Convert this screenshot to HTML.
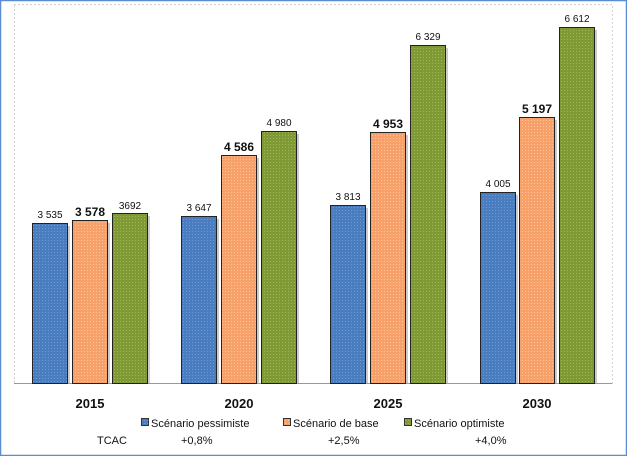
<!DOCTYPE html>
<html><head><style>
body{margin:0;width:627px;height:456px;background:#fff;overflow:hidden;font-family:"Liberation Sans",sans-serif}
</style></head><body>
<svg width="627" height="456" xmlns="http://www.w3.org/2000/svg" font-family="Liberation Sans, sans-serif">
<defs>
<pattern id="pb" width="3" height="3" patternUnits="userSpaceOnUse"><rect width="3" height="3" fill="#4a7cc0"/><rect width="1" height="1" fill="#6f9ad6"/></pattern>
<pattern id="po" width="3" height="3" patternUnits="userSpaceOnUse"><rect width="3" height="3" fill="#f7a06a"/><rect width="1" height="1" fill="#fbc39a"/></pattern>
<pattern id="pg" width="3" height="3" patternUnits="userSpaceOnUse"><rect width="3" height="3" fill="#7f9a35"/><rect width="1" height="1" fill="#a2b65a"/></pattern>
</defs>
<rect x="0.5" y="0.5" width="626" height="455" fill="none" stroke="#5b8bd0" stroke-width="1.5"/>
<rect x="14.5" y="4.5" width="598" height="379" fill="none" stroke="#aaa" stroke-dasharray="1,3"/>
<line x1="14" y1="383.5" x2="612" y2="383.5" stroke="#999"/>
<g stroke="#222" stroke-width="1">
<!-- shadows -->
<g fill="#ccc" stroke="none">
<rect x="35" y="226" width="35" height="157"/><rect x="75" y="223" width="35" height="160"/><rect x="115" y="216" width="35" height="167"/>
<rect x="184" y="219" width="35" height="164"/><rect x="224" y="158" width="35" height="225"/><rect x="264" y="134" width="35" height="249"/>
<rect x="333" y="208" width="35" height="175"/><rect x="373" y="135" width="35" height="248"/><rect x="413" y="48" width="35" height="335"/>
<rect x="483" y="195" width="35" height="188"/><rect x="522" y="120" width="35" height="263"/><rect x="562" y="30" width="35" height="353"/>
</g>
<rect x="32.5" y="223.5" width="35" height="160" fill="url(#pb)"/>
<rect x="72.5" y="220.5" width="35" height="163" fill="url(#po)"/>
<rect x="112.5" y="213.5" width="35" height="170" fill="url(#pg)"/>
<rect x="181.5" y="216.5" width="35" height="167" fill="url(#pb)"/>
<rect x="221.5" y="155.5" width="35" height="228" fill="url(#po)"/>
<rect x="261.5" y="131.5" width="35" height="252" fill="url(#pg)"/>
<rect x="330.5" y="205.5" width="35" height="178" fill="url(#pb)"/>
<rect x="370.5" y="132.5" width="35" height="251" fill="url(#po)"/>
<rect x="410.5" y="45.5" width="35" height="338" fill="url(#pg)"/>
<rect x="480.5" y="192.5" width="35" height="191" fill="url(#pb)"/>
<rect x="519.5" y="117.5" width="35" height="266" fill="url(#po)"/>
<rect x="559.5" y="27.5" width="35" height="356" fill="url(#pg)"/>
</g>
<g font-size="10" text-anchor="middle" fill="#111">
<text x="50" y="218">3 535</text><text x="90" y="216" font-weight="bold" font-size="12">3 578</text><text x="130" y="209">3692</text>
<text x="199" y="211">3 647</text><text x="239" y="151" font-weight="bold" font-size="12">4 586</text><text x="279" y="126">4 980</text>
<text x="348" y="200">3 813</text><text x="388" y="128" font-weight="bold" font-size="12">4 953</text><text x="428" y="40">6 329</text>
<text x="498" y="187">4 005</text><text x="537" y="113" font-weight="bold" font-size="12">5 197</text><text x="577" y="22">6 612</text>
</g>
<g font-size="13" font-weight="bold" text-anchor="middle" fill="#111">
<text x="90" y="408">2015</text><text x="239" y="408">2020</text><text x="388" y="408">2025</text><text x="537" y="408">2030</text>
</g>
<g font-size="11" fill="#111">
<rect x="141.5" y="418.5" width="7" height="7" fill="url(#pb)" stroke="#333"/><text x="151" y="427">Scénario pessimiste</text>
<rect x="283.5" y="418.5" width="7" height="7" fill="url(#po)" stroke="#333"/><text x="293" y="427">Scénario de base</text>
<rect x="404.5" y="418.5" width="7" height="7" fill="url(#pg)" stroke="#333"/><text x="414" y="427">Scénario optimiste</text>
<text x="97" y="444">TCAC</text><text x="181" y="444">+0,8%</text><text x="328" y="444">+2,5%</text><text x="475" y="444">+4,0%</text>
</g>
</svg>
</body></html>
